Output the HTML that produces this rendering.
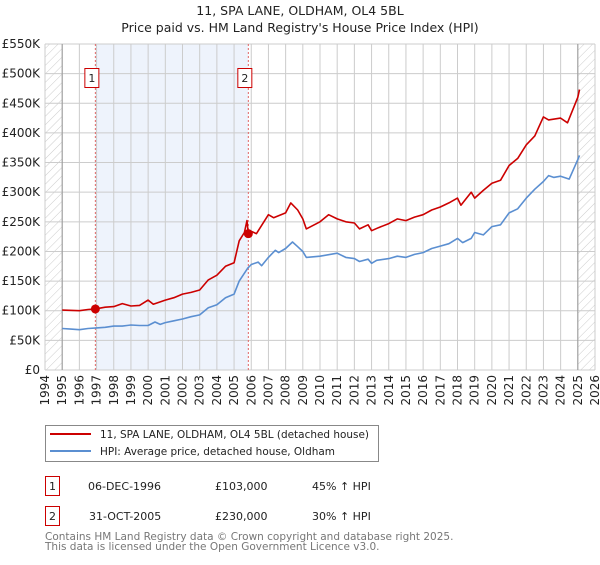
<!DOCTYPE html>
<html><head><meta charset="utf-8"><style>
body{margin:0;background:#fff;width:600px;height:560px;overflow:hidden;font-family:"Liberation Sans","DejaVu Sans",sans-serif}
svg text{font-family:"DejaVu Sans","Liberation Sans",sans-serif}
</style></head><body>
<svg id="c" width="600" height="560" xmlns="http://www.w3.org/2000/svg">
<defs><pattern id="h" width="6" height="6" patternUnits="userSpaceOnUse" patternTransform="rotate(45)"><line x1="0" y1="0" x2="0" y2="6" stroke="#ccc" stroke-width="1"/></pattern></defs>
<text x="300" y="15" text-anchor="middle" font-size="12.5" fill="#222">11, SPA LANE, OLDHAM, OL4 5BL</text>
<text x="300" y="32" text-anchor="middle" font-size="12.5" fill="#222">Price paid vs. HM Land Registry's House Price Index (HPI)</text>
<g id="plot"></g>
<g>
<rect x="45.5" y="425.5" width="333" height="36" fill="#fff" stroke="#888"/>
<line x1="50" y1="434" x2="91" y2="434" stroke="#cc0000" stroke-width="2"/>
<text x="100" y="438" font-size="11" fill="#222" textLength="269" lengthAdjust="spacingAndGlyphs">11, SPA LANE, OLDHAM, OL4 5BL (detached house)</text>
<line x1="50" y1="451" x2="91" y2="451" stroke="#5b8fd1" stroke-width="2"/>
<text x="100" y="455" font-size="11" fill="#222" textLength="235" lengthAdjust="spacingAndGlyphs">HPI: Average price, detached house, Oldham</text>
</g>
<g font-size="11" fill="#222">
<rect x="45.5" y="476.5" width="14" height="19" fill="#fff" stroke="#cc0000"/>
<text x="52.5" y="490" text-anchor="middle">1</text>
<text x="88" y="490">06-DEC-1996</text><text x="215" y="490">£103,000</text><text x="312" y="490">45% ↑ HPI</text>
<rect x="45.5" y="506.5" width="14" height="19" fill="#fff" stroke="#cc0000"/>
<text x="52.5" y="520" text-anchor="middle">2</text>
<text x="89" y="520">31-OCT-2005</text><text x="215" y="520">£230,000</text><text x="312" y="520">30% ↑ HPI</text>
</g>
<text x="45" y="540" font-size="10.5" fill="#777">Contains HM Land Registry data © Crown copyright and database right 2025.</text>
<text x="45" y="550" font-size="10.5" fill="#777">This data is licensed under the Open Government Licence v3.0.</text>
</svg>
<script>
const yTicks=[0,50,100,150,200,250,300,350,400,450,500,550];
const yTickLabels=["£0","£50K","£100K","£150K","£200K","£250K","£300K","£350K","£400K","£450K","£500K","£550K"];
const years=[1994,1995,1996,1997,1998,1999,2000,2001,2002,2003,2004,2005,2006,2007,2008,2009,2010,2011,2012,2013,2014,2015,2016,2017,2018,2019,2020,2021,2022,2023,2024,2025,2026];
const hpiT=[1995,1995.5,1996,1996.5,1997,1997.5,1998,1998.5,1999,1999.5,2000,2000.4,2000.7,2001,2001.5,2002,2002.5,2003,2003.5,2004,2004.5,2005,2005.3,2005.8,2006,2006.4,2006.6,2007,2007.4,2007.6,2008,2008.4,2008.7,2009,2009.2,2010,2011,2011.5,2012,2012.3,2012.8,2013,2013.3,2014,2014.5,2015,2015.5,2016,2016.5,2017,2017.5,2018,2018.3,2018.8,2019,2019.5,2020,2020.5,2021,2021.5,2022,2022.5,2023,2023.3,2023.6,2024,2024.5,2025,2025.1];
const hpiV=[70,69,68,70,71,72,74,74,76,75,75,81,77,80,83,86,90,93,105,110,122,128,150,172,178,182,176,190,202,198,205,216,208,200,190,192,197,190,188,183,187,180,185,188,192,190,195,198,205,209,213,222,215,222,232,228,242,245,265,272,290,305,318,328,325,327,322,355,362];
const priceT=[1995,1996,1996.5,1996.93,1997.5,1998,1998.5,1999,1999.5,2000,2000.3,2001,2001.5,2002,2002.5,2003,2003.5,2004,2004.5,2005,2005.3,2005.6,2005.75,2005.83,2006,2006.3,2007,2007.3,2008,2008.3,2008.7,2009,2009.2,2010,2010.5,2011,2011.5,2012,2012.3,2012.8,2013,2013.4,2014,2014.5,2015,2015.5,2016,2016.5,2017,2017.5,2018,2018.2,2018.8,2019,2019.5,2020,2020.5,2021,2021.5,2022,2022.5,2023,2023.3,2024,2024.4,2025,2025.1];
const priceV=[101,100,102,103,106,107,112,108,109,118,111,118,122,128,131,135,152,160,175,181,218,232,252,230,234,230,262,257,265,282,270,255,238,250,262,255,250,248,238,245,235,240,247,255,252,258,262,270,275,282,290,278,300,290,303,315,320,345,357,380,395,427,422,425,417,460,473];
const saleT=[1996.93,2005.83];
const saleV=[103,230];
const saleLabels=["1","2"];
const X0=45,X1=595,Y0=370,Y1=44;
const xs=t=>X0+(t-1994)/(2026-1994)*(X1-X0);
const ys=v=>Y0-v/550*(Y0-Y1);
const NS="http://www.w3.org/2000/svg";
const g=document.getElementById('plot');
function mk(tag,at,parent){const e=document.createElementNS(NS,tag);for(const k in at)e.setAttribute(k,at[k]);(parent||g).appendChild(e);return e;}
let e;
e=mk('rect',{x:xs(saleT[0]),y:Y1,width:xs(saleT[1])-xs(saleT[0]),height:Y0-Y1,fill:'#eef3fc'});


years.forEach(y=>{e=mk('line',{x1:xs(y),x2:xs(y),y1:Y1,y2:Y0,stroke:'#ccc'});

});
yTicks.forEach(v=>{e=mk('line',{x1:X0,x2:X1,y1:ys(v),y2:ys(v),stroke:'#ccc'});

});
e=mk('rect',{x:X0,y:Y1,width:xs(1995)-X0,height:Y0-Y1,fill:'url(#h)'});


e=mk('rect',{x:xs(2025),y:Y1,width:X1-xs(2025),height:Y0-Y1,fill:'url(#h)'});


[1995,2025].forEach(y=>{e=mk('line',{x1:xs(y),x2:xs(y),y1:Y1,y2:Y0,stroke:'#999'});

});
yTicks.forEach((v,i)=>{e=mk('text',{x:40,y:ys(v)+4,'text-anchor':'end','font-size':12,fill:'#222'});e.textContent=yTickLabels[i];

});
years.forEach(y=>{const x=xs(y)+4;e=mk('text',{x:x,y:375,'text-anchor':'end','font-size':12,fill:'#222',transform:`rotate(-90 ${x} 375)`});e.textContent=y;

});
saleT.forEach((t,i)=>{e=mk('line',{x1:xs(t),x2:xs(t),y1:Y1,y2:Y0,stroke:'#e06666','stroke-dasharray':'2,2'});


e=mk('rect',{x:xs(t)-10.5,y:68.5,width:14,height:19,fill:'#fff',stroke:'#cc0000'});


e=mk('text',{x:xs(t)-3.5,y:82,'text-anchor':'middle','font-size':11,fill:'#222'});e.textContent=saleLabels[i];

});
function line(T,V,col,name){e=mk('path',{d:T.map((t,i)=>(i?'L':'M')+xs(t).toFixed(1)+','+ys(V[i]).toFixed(1)).join(''),fill:'none',stroke:col,'stroke-width':1.6,'stroke-linejoin':'round'});

}
line(hpiT,hpiV,'#5b8fd1','hpi-line');
line(priceT,priceV,'#cc0000','property-line');
saleT.forEach((t,i)=>{e=mk('circle',{cx:xs(t),cy:ys(saleV[i]),r:4.5,fill:'#cc0000'});

});
</script>
</body></html>
